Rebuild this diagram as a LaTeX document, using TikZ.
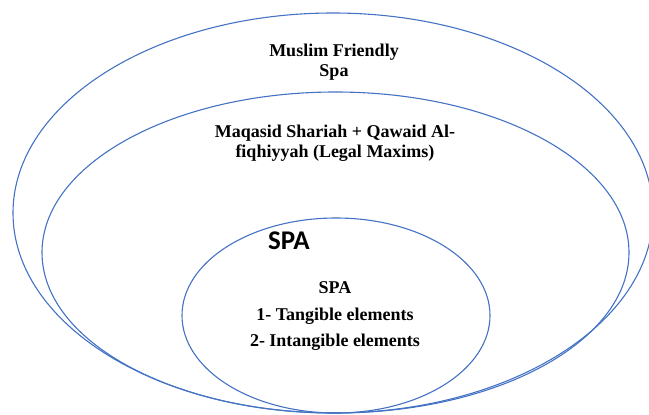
\documentclass[tikz,border=0pt]{standalone}
\usepackage{fontspec}
\setmainfont{Liberation Serif}
\newfontfamily\calfont{Carlito}
\definecolor{ringblue}{HTML}{4472C4}
\begin{document}
\begin{tikzpicture}[x=1pt,y=-1pt,
  ring/.style={draw=ringblue, line width=1.1pt},
  lbl/.style={align=center, inner sep=0pt, font=\bfseries\fontsize{18}{20}\selectfont},
  big/.style={inner sep=0pt, font=\calfont\bfseries\fontsize{27}{30}\selectfont}]
\useasboundingbox (0,0) rectangle (649,415);
% rings
\draw[ring] (333,213) ellipse [x radius=320, y radius=200];
\draw[ring] (335.5,252.5) ellipse [x radius=293.5, y radius=160.5];
\draw[ring] (336,315.5) ellipse [x radius=154, y radius=97.5];
% labels
\node[lbl] (outer) at (334,62) {Muslim Friendly\\Spa};
\node[lbl] (middle) at (335,143) {Maqasid Shariah + Qawaid Al-\\fiqhiyyah (Legal Maxims)};
\node[big, anchor=base] (spa) at (289,249) {SPA};
\node[lbl, font=\bfseries\fontsize{18}{26.5}\selectfont] (inner) at (335,316.5) {SPA\\1- Tangible elements\\2- Intangible elements};
\end{tikzpicture}
\end{document}
